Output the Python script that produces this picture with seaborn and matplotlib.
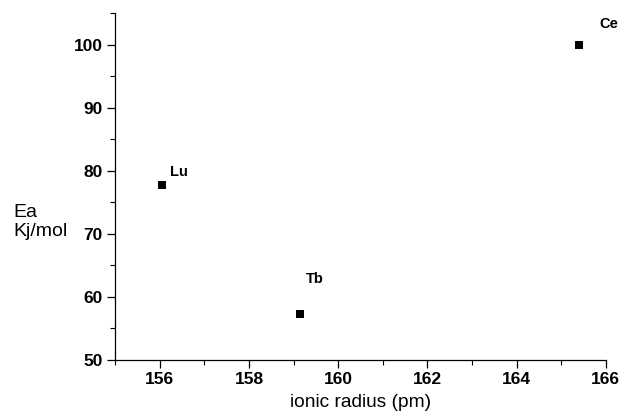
import matplotlib
matplotlib.use("Agg")
import matplotlib.pyplot as plt
import seaborn as sns
import pandas as pd
from matplotlib.ticker import MultipleLocator

# Data
elements = ["Lu", "Tb", "Ce"]
ionic_radius = [156.05, 159.15, 165.4]
activation_energy = [77.8, 57.3, 99.9]

# label offsets in pixels (dx, dy)
label_offsets = {"Lu": (8, 6), "Tb": (6, 28), "Ce": (20, 14)}

df = pd.DataFrame({"element": elements, "radius": ionic_radius, "Ea": activation_energy})

sns.set_theme(style="ticks")
plt.rcParams["font.family"] = ["Liberation Sans", "DejaVu Sans"]
plt.rcParams["text.color"] = "black"
plt.rcParams["axes.labelcolor"] = "black"
plt.rcParams["xtick.color"] = "black"
plt.rcParams["ytick.color"] = "black"

fig = plt.figure(figsize=(6.44, 4.13), dpi=100)
ax = fig.add_axes([115.3 / 644, 1 - 360 / 413, (605.7 - 115.3) / 644, (360 - 13.3) / 413])

sns.scatterplot(data=df, x="radius", y="Ea", marker="s", s=30, color="black",
                edgecolor="black", linewidth=0, ax=ax, legend=False)

for el, xv, yv in zip(elements, ionic_radius, activation_energy):
    dx, dy = label_offsets[el]
    ax.annotate(el, (xv, yv), xytext=(dx, dy), textcoords="offset pixels",
                fontsize=10.5, fontweight="bold", ha="left", va="bottom", color="black")

ax.set_xlim(155, 166)
ax.set_ylim(50, 105)
ax.xaxis.set_minor_locator(MultipleLocator(1))
ax.yaxis.set_minor_locator(MultipleLocator(5))
ax.set_xticks([156, 158, 160, 162, 164, 166])
ax.set_yticks([50, 60, 70, 80, 90, 100])

ax.tick_params(axis="both", which="major", length=6, width=0.9, direction="out",
               labelsize=12.5, colors="black", pad=3)
ax.tick_params(axis="both", which="minor", length=3.5, width=0.8, direction="out", colors="black")
for lab in ax.get_xticklabels() + ax.get_yticklabels():
    lab.set_fontweight("bold")

sns.despine(ax=ax)
for sp in ["left", "bottom"]:
    ax.spines[sp].set_linewidth(0.9)
    ax.spines[sp].set_color("black")

ax.set_xlabel("ionic radius (pm)", fontsize=13.8, labelpad=5, color="black")
ax.set_ylabel("")
fig.text(13 / 644, 1 - 222 / 413, "Ea\nKj/mol", fontsize=14, ha="left", va="center",
         linespacing=1.2, color="black")

fig.savefig("out.png", dpi=100)
